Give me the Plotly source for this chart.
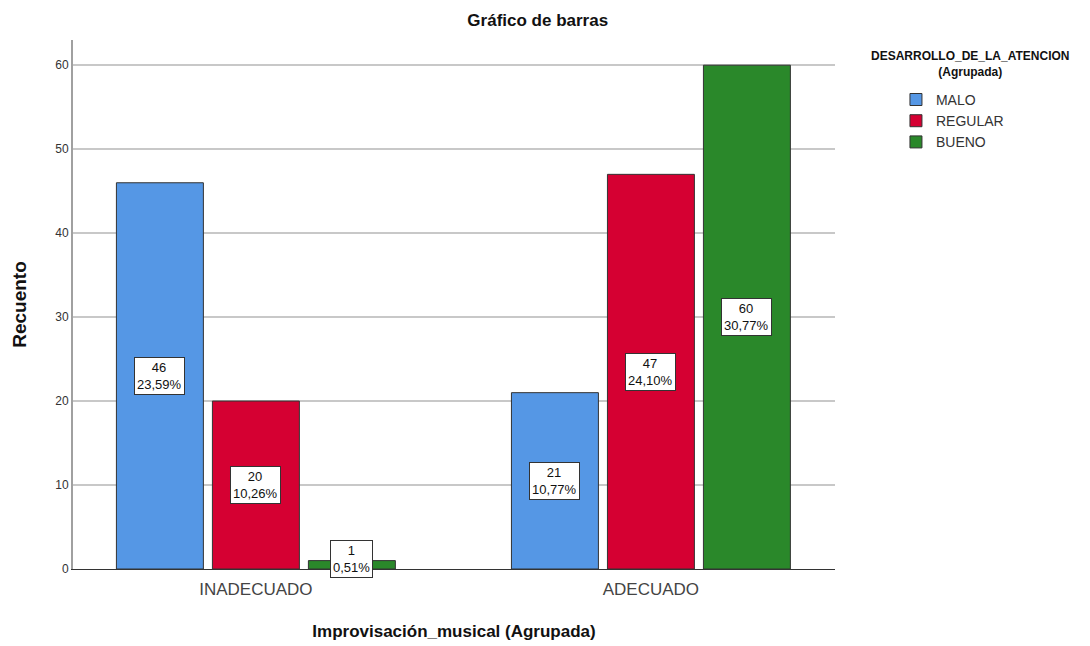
from plotly import graph_objects as go

categories = ['INADECUADO', 'ADECUADO']
series_names = ['MALO', 'REGULAR', 'BUENO']
counts = {
    'MALO': [46, 21],
    'REGULAR': [20, 47],
    'BUENO': [1, 60],
}
percents = {
    'MALO': ['23,59%', '10,77%'],
    'REGULAR': ['10,26%', '24,10%'],
    'BUENO': ['0,51%', '30,77%'],
}
colors = {'MALO': '#5597E5', 'REGULAR': '#D50032', 'BUENO': '#2A882A'}

FONT = 'Liberation Sans, Arial, sans-serif'
BARGAP = 0.271

fig = go.Figure()
for name in series_names:
    fig.add_trace(go.Bar(
        name=name, x=categories, y=counts[name],
        marker=dict(color=colors[name], line=dict(color='#333333', width=1)),
        offsetgroup=name,
    ))

# label boxes in the middle of each bar
slot = (1 - BARGAP) / 3
for i, name in enumerate(series_names):
    for j, cat in enumerate(categories):
        v = counts[name][j]
        ypos = max(v / 2, 1.2)
        fig.add_annotation(
            x=j + (i - 1) * slot, y=ypos, xref='x', yref='y',
            text=f'{v}<br>{percents[name][j]}', showarrow=False,
            bgcolor='white', bordercolor='#333333', borderwidth=1, borderpad=2,
            font=dict(family=FONT, size=13, color='#111111'),
        )

fig.add_annotation(
    x=1.177, y=0.987, xref='paper', yref='paper', showarrow=False,
    text='<b>DESARROLLO_DE_LA_ATENCION<br>(Agrupada)</b>', align='center',
    xanchor='center', yanchor='top', font=dict(size=12, color='#111111'),
)

fig.update_layout(
    width=1090, height=646,
    margin=dict(l=65, r=263, t=32, b=85, autoexpand=False),
    paper_bgcolor='white', plot_bgcolor='white',
    font=dict(family=FONT, color='#222222'),
    title=dict(text='<b>Gráfico de barras</b>', x=0.486, xanchor='center',
               y=0.981, yanchor='middle', font=dict(size=17, color='#111111')),
    barmode='group', bargap=BARGAP, bargroupgap=0.094,
    xaxis=dict(
        range=[-0.463, 1.466], showgrid=False,
        ticks='outside', ticklen=5, tickcolor='white',
        showline=True, linecolor='#333333', linewidth=1,
        tickfont=dict(size=17, color='#444444'),
        title=dict(text='<b>Improvisación_musical (Agrupada)</b>',
                   font=dict(size=17, color='#111111'), standoff=26),
    ),
    yaxis=dict(
        range=[0, 63], dtick=10, showgrid=True, gridcolor='#C8C8C8', gridwidth=1.5,
        showline=True, linecolor='#A0A0A0', linewidth=2, zeroline=False,
        ticks='', tickfont=dict(size=12, color='#333333'),
        title=dict(text='<b>Recuento</b>', font=dict(size=19, color='#111111'),
                   standoff=24),
    ),
    legend=dict(
        x=1.08, xanchor='left', xref='paper', y=0.917, yanchor='top',
        font=dict(size=14, color='#333333'), itemwidth=30,
        tracegroupgap=0, bgcolor='rgba(0,0,0,0)',
    ),
)

fig.write_html("out.html")
